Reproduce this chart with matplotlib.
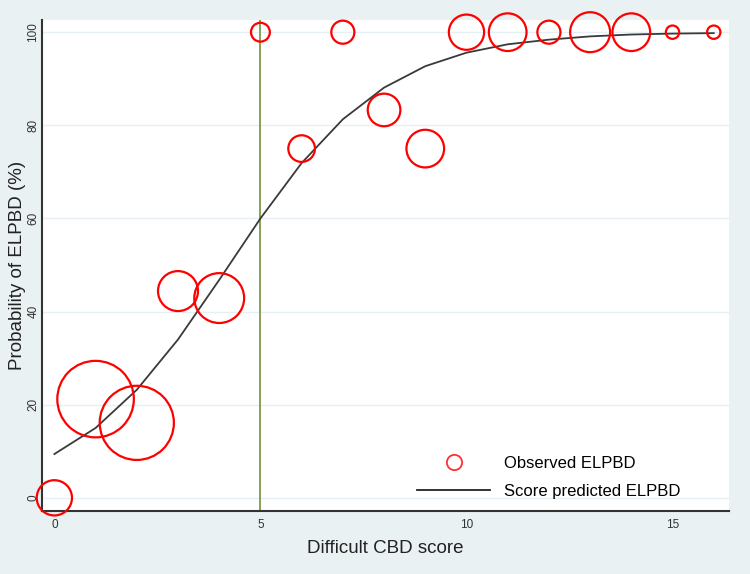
import numpy as np
import matplotlib
matplotlib.use('Agg')
import matplotlib.pyplot as plt
from matplotlib.lines import Line2D

plt.rcParams['font.family'] = ['Liberation Sans', 'DejaVu Sans']

# observed data per score: percentage with ELPBD and number of patients
score = [0, 1, 2, 3, 4, 5, 6, 7, 8, 9, 10, 11, 12, 13, 14, 15, 16]
observed = [0, 21.2, 16.1, 44.4, 42.9, 100, 75, 100, 83.3, 75, 100, 100, 100, 100, 100, 100, 100]
n_patients = [7, 33, 31, 9, 14, 2, 4, 3, 6, 8, 7, 8, 3, 9, 8, 1, 1]
# predicted probability
predicted = [9.4, 15.0, 23.2, 34.0, 46.8, 60.0, 71.9, 81.3, 88.1, 92.7, 95.6, 97.4, 98.4, 99.1, 99.5, 99.7, 99.8]
cutoff = 5

bg = '#e9f1f3'
fig = plt.figure(figsize=(7.5, 5.74), dpi=100, facecolor=bg)
ax = fig.add_axes([0.056, 0.11, 0.916, 0.855])
ax.set_facecolor('white')

ax.axvline(cutoff, color='#7d9a4c', lw=1.3, zorder=1)
ax.scatter(score, observed, s=np.array(n_patients) * 92, facecolors='none',
           edgecolors='#ff0000', linewidths=1.6, zorder=3, clip_on=False)
ax.plot(score, predicted, color='#3a3a3a', lw=1.3, zorder=2)

ax.set_xlim(-0.3, 16.37)
ax.set_ylim(-2.8, 102.6)
ax.set_xticks([0, 5, 10, 15])
ax.set_yticks([0, 20, 40, 60, 80, 100])
ax.grid(axis='y', color='#e6eff3', lw=1)
ax.set_axisbelow(True)
ax.tick_params(length=0, labelsize=8.5, colors='#333333', pad=6)
ax.tick_params(axis='y', pad=2)
for lab in ax.get_yticklabels():
    lab.set_rotation(90)
    lab.set_va('center')
for s in ['top', 'right']:
    ax.spines[s].set_visible(False)
for s in ['left', 'bottom']:
    ax.spines[s].set_color('#333333')
    ax.spines[s].set_linewidth(1.5)

ax.set_xlabel('Difficult CBD score', fontsize=13.5, color='#222222', labelpad=6)
ax.set_ylabel('Probability of ELPBD (%)', fontsize=13.5, color='#222222', labelpad=1)

handles = [Line2D([], [], ls='none', marker='o', markersize=11, markerfacecolor='none',
                  markeredgecolor='#ff3030', markeredgewidth=1.3),
           Line2D([], [], color='#222222', lw=1.3)]
ax.legend(handles, ['Observed ELPBD', 'Score predicted ELPBD'], loc='lower left',
          bbox_to_anchor=(0.546, 0.025), frameon=False, fontsize=12,
          borderpad=0, borderaxespad=0,
          handlelength=4.4, handletextpad=0.8, labelspacing=0.75)

fig.savefig('out.png', dpi=100, facecolor=bg)
